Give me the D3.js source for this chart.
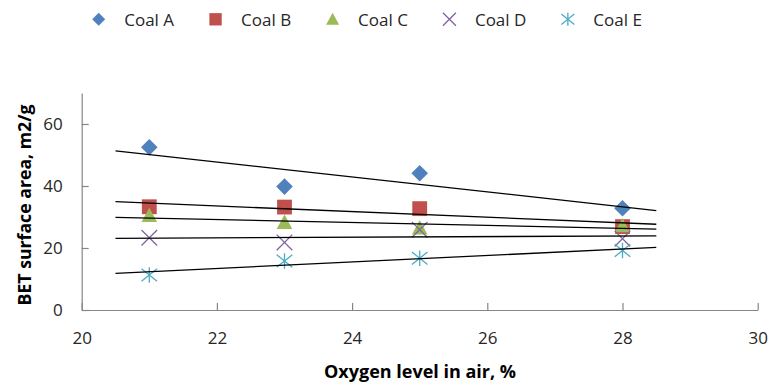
<!DOCTYPE html>
<html>
<head>
<meta charset="utf-8">
<script src="https://cdn.jsdelivr.net/npm/d3@7"></script>
<style>
  html, body { margin: 0; padding: 0; background: #fff; }
  svg { display: block; font-family: "Open Sans", sans-serif; }
</style>
</head>
<body>
<svg id="chart" width="771" height="385"></svg>
<script>
// Oxygen level in air (%) at which each coal was tested
const oxygen = [21, 23, 25, 28];

// BET surface area (m2/g) per coal
const coalA = [52.5, 39.8, 44.1, 32.8];
const coalB = [33.3, 33.2, 32.7, 26.9];
const coalC = [30.5, 28.3, 26.5, 27.2];
const coalD = [23.3, 21.8, 25.9, 23.0];
const coalE = [11.3, 15.8, 16.7, 19.2];

const seriesNames = ["Coal A", "Coal B", "Coal C", "Coal D", "Coal E"];
const seriesValues = [coalA, coalB, coalC, coalD, coalE];
const seriesColors = ["#4F81BD", "#C0504D", "#9BBB59", "#8064A2", "#4BACC6"];
const seriesShapes = ["diamond", "square", "triangle", "cross", "star"];

// axis ticks and the span of the linear trend lines
const xTicks = [20, 22, 24, 26, 28, 30];
const yTicks = [0, 20, 40, 60];
const trendSpan = [20.5, 28.5];

const svg = d3.select("#chart");

const x = d3.scaleLinear().domain([20, 30]).range([81.7, 757.7]);
const y = d3.scaleLinear().domain([0, 70]).range([310, 93]);

// marker outlines centred on the origin
function shapePath(shape, s) {
  const p = d3.path();
  if (shape === "diamond") {
    p.moveTo(0, -s); p.lineTo(s, 0); p.lineTo(0, s); p.lineTo(-s, 0); p.closePath();
  } else if (shape === "square") {
    const h = s * 0.95;
    p.rect(-h, -h, 2 * h, 2 * h);
  } else if (shape === "triangle") {
    p.moveTo(0, -s); p.lineTo(s, s * 0.85); p.lineTo(-s, s * 0.85); p.closePath();
  } else if (shape === "cross") {
    p.moveTo(-s, -s); p.lineTo(s, s); p.moveTo(s, -s); p.lineTo(-s, s);
  } else if (shape === "star") {
    p.moveTo(-s, -s * 0.8); p.lineTo(s, s * 0.8);
    p.moveTo(s, -s * 0.8); p.lineTo(-s, s * 0.8);
    p.moveTo(0, -s); p.lineTo(0, s);
  }
  return p.toString();
}

function styleMarker(sel, i) {
  const stroked = seriesShapes[i] === "cross" || seriesShapes[i] === "star";
  sel.attr("fill", stroked ? "none" : seriesColors[i])
     .attr("stroke", stroked ? seriesColors[i] : "none")
     .attr("stroke-width", stroked ? 1.3 : 0);
}

// axes
const xAxis = d3.axisBottom(x).tickValues(xTicks).tickSizeInner(-7).tickSizeOuter(0).tickPadding(22);
const yAxis = d3.axisLeft(y).tickValues(yTicks).tickSizeInner(-7).tickSizeOuter(0).tickPadding(19);

const gx = svg.append("g").attr("transform", `translate(0,${y(0)})`).call(xAxis);
const gy = svg.append("g").attr("transform", `translate(${x(20)},0)`).call(yAxis);

[gx, gy].forEach(g => {
  g.selectAll("path.domain").attr("stroke", "#868686").attr("stroke-width", 1.2);
  g.selectAll(".tick line").attr("stroke", "#868686").attr("stroke-width", 1.2);
  g.selectAll(".tick text")
    .attr("fill", "#262626")
    .style("font-size", "17px")
    .style("font-family", "'Open Sans', sans-serif");
});

// markers, later series on top
seriesValues.forEach((vals, i) => {
  const size = seriesShapes[i] === "diamond" ? 8.3 : 7.8;
  svg.append("g")
    .selectAll("path")
    .data(vals.map((v, k) => ({ x: oxygen[k], y: v })))
    .join("path")
    .attr("d", shapePath(seriesShapes[i], size))
    .attr("transform", d => `translate(${x(d.x)},${y(d.y)})`)
    .call(styleMarker, i);
});

// least-squares trend line for each series
function fit(xs, ys) {
  const mx = d3.mean(xs), my = d3.mean(ys);
  const sxy = d3.sum(xs, (v, k) => (v - mx) * (ys[k] - my));
  const sxx = d3.sum(xs, v => (v - mx) * (v - mx));
  const slope = sxy / sxx;
  return t => my + slope * (t - mx);
}

const line = d3.line().x(d => x(d[0])).y(d => y(d[1]));
seriesValues.forEach(vals => {
  const f = fit(oxygen, vals);
  svg.append("path")
    .attr("d", line(trendSpan.map(t => [t, f(t)])))
    .attr("fill", "none")
    .attr("stroke", "#000")
    .attr("stroke-width", 1.3);
});

// axis titles
svg.append("text")
  .attr("x", 420).attr("y", 371)
  .attr("text-anchor", "middle").attr("dominant-baseline", "central")
  .attr("fill", "#000")
  .style("font-size", "18px").style("font-weight", "bold")
  .text("Oxygen level in air, %");

svg.append("text")
  .attr("transform", "translate(24,205) rotate(-90)")
  .attr("text-anchor", "middle").attr("dominant-baseline", "central")
  .attr("fill", "#000")
  .style("font-size", "17.7px").style("font-weight", "bold")
  .text("BET surface area, m2/g");

// legend across the top
const legend = svg.append("g");
let lx = 98.7;
seriesNames.forEach((name, i) => {
  const item = legend.append("g").attr("transform", `translate(${lx},19.3)`);
  item.append("path")
    .attr("d", shapePath(seriesShapes[i], 6.5))
    .call(styleMarker, i);
  const t = item.append("text")
    .attr("x", 25.5).attr("y", 0)
    .attr("dominant-baseline", "central")
    .attr("fill", "#262626")
    .style("font-size", "17px")
    .text(name);
  lx += 25.5 + t.node().getComputedTextLength() + 41.5;
});
</script>
</body>
</html>
